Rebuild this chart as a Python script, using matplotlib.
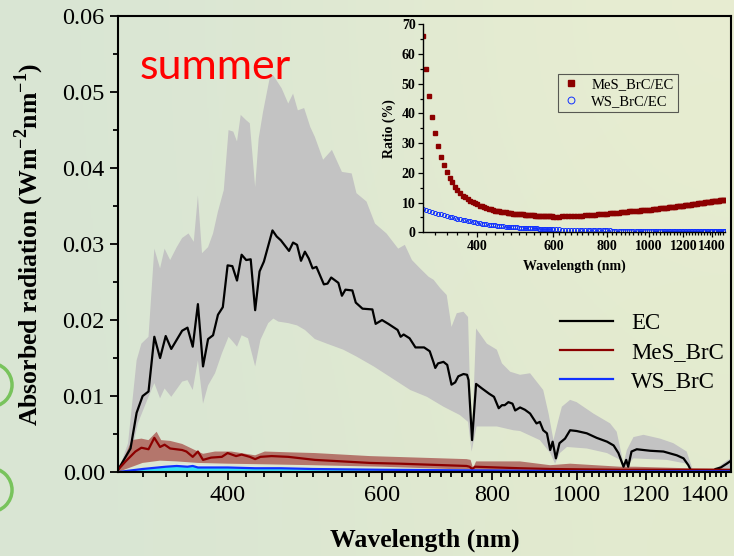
import numpy as np
import matplotlib.pyplot as plt
from matplotlib.patches import Ellipse
from matplotlib.ticker import FixedLocator, NullFormatter, MultipleLocator, FormatStrFormatter

# EC absorbed radiation: mean and band edges (W m-2 nm-1)
ec_wl = [300, 310, 315, 320, 325, 330, 335, 340, 345, 355, 360, 365, 370, 375, 380, 385, 390, 395,
         400, 405, 410, 415, 420, 425, 430, 435, 440, 450, 455, 460, 470, 475, 480, 485, 490, 495,
         500, 505, 515, 520, 525, 535, 540, 545, 555, 560, 570, 585, 590, 600, 610, 625, 630, 635,
         645, 655, 670, 680, 687, 690, 695, 705, 712, 720, 727, 733, 743, 750, 753, 760, 768, 780,
         795, 805, 815, 822, 828, 836, 845, 851, 862, 873, 885, 893, 900, 908, 916, 925, 933, 939,
         947, 956, 970, 983, 1000, 1027, 1054, 1083, 1102, 1116, 1131, 1139, 1145, 1155, 1171,
         1213, 1256, 1301, 1324, 1341, 1350, 1360, 1425, 1440, 1460, 1483, 1500]
ec_mean = [0.0003, 0.0031, 0.0078, 0.0100, 0.0106, 0.0178, 0.0150, 0.0179, 0.0162, 0.0186, 0.0190,
           0.0165, 0.0221, 0.0139, 0.0175, 0.0180, 0.0207, 0.0217, 0.0272, 0.0271, 0.0252, 0.0286,
           0.0279, 0.0280, 0.0213, 0.0264, 0.0277, 0.0318, 0.0310, 0.0305, 0.0291, 0.0302, 0.0299,
           0.0278, 0.0290, 0.0281, 0.0268, 0.0270, 0.0247, 0.0248, 0.0256, 0.0249, 0.0232, 0.0240,
           0.0239, 0.0223, 0.0215, 0.0214, 0.0195, 0.0200, 0.0195, 0.0187, 0.0178, 0.0181, 0.0176,
           0.0164, 0.0164, 0.0159, 0.0144, 0.0137, 0.0143, 0.0145, 0.0141, 0.0115, 0.0118, 0.0126,
           0.0129, 0.0128, 0.0121, 0.0042, 0.0116, 0.0110, 0.0103, 0.0099, 0.0084, 0.0088, 0.0088,
           0.0092, 0.0090, 0.0081, 0.0085, 0.0082, 0.0077, 0.0070, 0.0064, 0.0066, 0.0055, 0.0051,
           0.0029, 0.0040, 0.0018, 0.0038, 0.0044, 0.0055, 0.0054, 0.0051, 0.0045, 0.0040, 0.0035,
           0.0025, 0.0007, 0.0016, 0.0007, 0.0027, 0.0030, 0.0028, 0.0027, 0.0022, 0.0018, 0.0009,
           0.0002, 0.0, 0.0, 0.0004, 0.0006, 0.0011, 0.0015]

ec_up_wl = [300, 308, 315, 319, 325, 330, 335, 339, 344, 350, 355, 361, 366, 370, 374, 380, 385, 390,
            396, 401, 406, 410, 414, 420, 424, 430, 434, 439, 447, 451, 461, 469, 475, 481, 489, 497,
            503, 514, 526, 540, 554, 561, 576, 589, 607, 626, 637, 649, 663, 678, 687, 699, 711, 720,
            730, 743, 752, 759, 768, 790, 811, 822, 840, 862, 885, 916, 929, 941, 953, 962, 983, 1000,
            1045, 1092, 1111, 1131, 1141, 1161, 1192, 1245, 1289, 1335, 1353, 1360, 1425, 1483, 1500]
ec_up = [0.0, 0.0038, 0.0147, 0.0169, 0.0178, 0.0294, 0.0268, 0.0294, 0.0279, 0.0296, 0.0308, 0.0314,
         0.0303, 0.0364, 0.0288, 0.0296, 0.0314, 0.0343, 0.0371, 0.0450, 0.0448, 0.0435, 0.0470, 0.0463,
         0.0459, 0.0375, 0.0439, 0.0474, 0.0520, 0.0522, 0.0505, 0.0485, 0.0498, 0.0476, 0.0479, 0.0454,
         0.0441, 0.0411, 0.0424, 0.0395, 0.0393, 0.0367, 0.0356, 0.0327, 0.0314, 0.0294, 0.0299, 0.0279,
         0.0268, 0.0257, 0.0253, 0.0242, 0.0233, 0.0191, 0.0209, 0.0211, 0.0204, 0.0029, 0.0189, 0.0169,
         0.0161, 0.0143, 0.0132, 0.0128, 0.0130, 0.0108, 0.0077, 0.0042, 0.0068, 0.0086, 0.0095, 0.0092,
         0.0077, 0.0064, 0.0053, 0.0011, 0.0029, 0.0046, 0.0049, 0.0044, 0.0038, 0.0027, 0.0007, 0.0,
         0.0, 0.0015, 0.0018]

ec_lo_wl = [300, 310, 316, 325, 330, 335, 339, 345, 355, 360, 365, 370, 375, 380, 387, 394, 401, 406,
            410, 415, 422, 430, 436, 445, 451, 457, 469, 480, 490, 503, 519, 542, 561, 587, 613, 646,
            675, 705, 736, 752, 759, 769, 811, 847, 862, 908, 933, 945, 957, 975, 1027, 1083, 1121,
            1131, 1161, 1267, 1335, 1353, 1360, 1500]
ec_lo = [0.0, 0.0020, 0.0064, 0.0099, 0.0117, 0.0097, 0.0110, 0.0099, 0.0119, 0.0121, 0.0108, 0.0147,
         0.0090, 0.0114, 0.0130, 0.0156, 0.0178, 0.0171, 0.0165, 0.0180, 0.0176, 0.0139, 0.0174, 0.0196,
         0.0202, 0.0198, 0.0196, 0.0193, 0.0187, 0.0175, 0.0169, 0.0161, 0.0152, 0.0139, 0.0125, 0.0108,
         0.0099, 0.0086, 0.0075, 0.0066, 0.0027, 0.0060, 0.0060, 0.0055, 0.0054, 0.0042, 0.0025, 0.0011,
         0.0025, 0.0033, 0.0031, 0.0025, 0.0016, 0.0004, 0.0018, 0.0016, 0.0011, 0.0004, 0.0, 0.0]

# MeS_BrC
mes_wl = [300, 306, 314, 319, 325, 330, 335, 339, 344, 355, 359, 365, 370, 375, 383, 394, 400, 409,
          415, 424, 430, 436, 449, 469, 503, 581, 629, 749, 755, 760, 766, 862, 933, 1121, 1500]
mes_mean = [0.0003, 0.0014, 0.0027, 0.0032, 0.0030, 0.0045, 0.0033, 0.0036, 0.0031, 0.0029, 0.0027,
            0.0020, 0.0027, 0.0016, 0.0019, 0.0020, 0.0025, 0.0021, 0.0023, 0.0020, 0.0017, 0.0020,
            0.0021, 0.0020, 0.0016, 0.0012, 0.0011, 0.0008, 0.0007, 0.0004, 0.0007, 0.0005, 0.0004,
            0.0003, 0.0003]
mes_up_wl = [300, 311, 319, 325, 332, 336, 344, 355, 367, 375, 387, 404, 430, 441, 469, 503, 581, 749,
             757, 762, 768, 862, 933, 983, 1121, 1167, 1335, 1500]
mes_up = [0.0, 0.0042, 0.0044, 0.0042, 0.0053, 0.0042, 0.0041, 0.0037, 0.0029, 0.0024, 0.0027, 0.0027,
          0.0022, 0.0027, 0.0026, 0.0025, 0.0021, 0.0017, 0.0016, 0.0005, 0.0014, 0.0014, 0.0009, 0.0011,
          0.0007, 0.0007, 0.0005, 0.0004]
mes_lo_wl = [300, 320, 335, 350, 370, 400, 450, 500, 600, 760, 862, 1000, 1500]
mes_lo = [0.0, 0.0012, 0.0015, 0.0014, 0.0012, 0.0011, 0.0010, 0.0009, 0.0007, 0.0003, 0.0002, 0.0001,
          0.0001]

# WS_BrC
ws_wl = [300, 320, 340, 350, 360, 365, 370, 380, 400, 430, 450, 460, 500, 600, 800, 1000, 1500]
ws_mean = [0.0, 0.0004, 0.0007, 0.0008, 0.0007, 0.0008, 0.0006, 0.0006, 0.0006, 0.0005, 0.0005,
           0.0005, 0.0004, 0.0003, 0.0002, 0.0001, 0.0001]
ws_up = [0.0, 0.0006, 0.0010, 0.0011, 0.0011, 0.0011, 0.0010, 0.0010, 0.0009, 0.0008, 0.0007, 0.0007,
         0.0006, 0.0004, 0.0003, 0.0002, 0.0001]
ws_lo = [0.0, 0.0001, 0.0001, 0.0001, 0.0001, 0.0001, 0.0001, 0.0001, 0.0001, 0.0001, 0.0001, 0.0001,
         0.0001, 0.0, 0.0, 0.0, 0.0]

# inset: ratio to EC (%), 5 nm steps below 600 nm, 10 nm steps above
ratio_wl = list(range(300, 600, 5)) + list(range(600, 1501, 10))
mes_ratio = [66.0, 55.0, 46.0, 38.8, 33.4, 29.0, 25.5, 22.7, 20.3, 18.4,
             16.8, 15.4, 14.2, 13.2, 12.3, 11.8, 11.2, 10.6, 10.1, 9.7,
             9.4, 9.0, 8.7, 8.4, 8.2, 7.9, 7.7, 7.5, 7.3, 7.15,
             7.0, 6.9, 6.8, 6.7, 6.6, 6.5, 6.4, 6.3, 6.2, 6.15,
             6.1, 6.05, 6.0, 5.95, 5.9, 5.85, 5.8, 5.75, 5.7, 5.65,
             5.6, 5.55, 5.5, 5.48, 5.45, 5.42, 5.4, 5.37, 5.35, 5.32,
             5.3, 5.3, 5.31, 5.33, 5.36, 5.39, 5.43, 5.47, 5.51, 5.55,
             5.6, 5.66, 5.72, 5.79, 5.86, 5.93, 6.0, 6.08, 6.15, 6.22,
             6.3, 6.37, 6.44, 6.51, 6.58, 6.65, 6.72, 6.79, 6.86, 6.93,
             7.0, 7.06, 7.12, 7.18, 7.24, 7.3, 7.36, 7.42, 7.48, 7.54,
             7.6, 7.67, 7.74, 7.81, 7.88, 7.95, 8.02, 8.09, 8.16, 8.23,
             8.3, 8.37, 8.44, 8.51, 8.58, 8.65, 8.72, 8.79, 8.86, 8.93,
             9.0, 9.07, 9.14, 9.21, 9.28, 9.35, 9.42, 9.49, 9.56, 9.63,
             9.7, 9.77, 9.84, 9.91, 9.98, 10.05, 10.12, 10.19, 10.26, 10.33,
             10.4, 10.46, 10.52, 10.58, 10.64, 10.7, 10.76, 10.82, 10.88, 10.94,
             11.0]
ws_ratio = [7.8, 7.5, 7.2, 6.9, 6.6, 6.3, 6.0, 5.75, 5.5, 5.25,
            5.0, 4.8, 4.6, 4.4, 4.2, 4.0, 3.8, 3.65, 3.5, 3.35,
            3.2, 3.07, 2.95, 2.82, 2.7, 2.6, 2.5, 2.4, 2.3, 2.22,
            2.15, 2.07, 2.0, 1.95, 1.9, 1.85, 1.8, 1.75, 1.7, 1.65,
            1.6, 1.55, 1.5, 1.47, 1.45, 1.42, 1.4, 1.37, 1.35, 1.32,
            1.3, 1.25, 1.2, 1.17, 1.15, 1.12, 1.1, 1.07, 1.05, 1.02,
            1.0, 0.98, 0.95, 0.92, 0.9, 0.88, 0.85, 0.83, 0.8, 0.78,
            0.75, 0.74, 0.72, 0.71, 0.7, 0.69, 0.68, 0.66, 0.65, 0.64,
            0.62, 0.61, 0.6, 0.59, 0.58, 0.57, 0.56, 0.55, 0.54, 0.53,
            0.52, 0.51, 0.5, 0.5, 0.49, 0.49, 0.48, 0.47, 0.46, 0.46,
            0.45, 0.45, 0.44, 0.44, 0.43, 0.43, 0.42, 0.42, 0.41, 0.41,
            0.4, 0.4, 0.39, 0.39, 0.38, 0.38, 0.37, 0.37, 0.36, 0.36,
            0.35, 0.35, 0.35, 0.34, 0.34, 0.34, 0.34, 0.33, 0.33, 0.33,
            0.33, 0.32, 0.32, 0.32, 0.32, 0.31, 0.31, 0.31, 0.31, 0.3,
            0.3, 0.3, 0.3, 0.3, 0.29, 0.29, 0.29, 0.29, 0.28, 0.28,
            0.28]

major_wl = [400, 600, 800, 1000, 1200, 1400]
minor_wl = [w for w in range(320, 1500, 20) if w not in major_wl]
y_ticks = [0.0, 0.01, 0.02, 0.03, 0.04, 0.05, 0.06]

serif = 'Liberation Serif'
plt.rcParams['mathtext.fontset'] = 'custom'
plt.rcParams['mathtext.rm'] = 'Liberation Serif'
plt.rcParams['mathtext.bf'] = 'Liberation Serif:bold'

fig = plt.figure(figsize=(7.34, 5.56), dpi=100)

# slide background
bg = fig.add_axes([0, 0, 1, 1], zorder=-10)
bg.axis('off')
grad = np.array([[[0.85, 0.90, 0.83], [0.91, 0.93, 0.82]],
                 [[0.85, 0.90, 0.83], [0.89, 0.92, 0.81]]])
bg.imshow(grad, extent=[0, 1, 0, 1], interpolation='bicubic', aspect='auto')
for cy in [0.3076, 0.1187]:
    bg.add_patch(Ellipse((-0.0136, cy), 0.06, 0.079, fill=False, ec='#78c35c', lw=2.5))
bg.set_xlim(0, 1)
bg.set_ylim(0, 1)

ax = fig.add_axes([0.1608, 0.151, 0.8352, 0.82])
ax.set_facecolor('none')
ax.fill(ec_up_wl + ec_lo_wl[::-1], ec_up + ec_lo[::-1], color='#c3c3c3', lw=0)
ax.fill(mes_up_wl + mes_lo_wl[::-1], mes_up + mes_lo[::-1], color='#b4766c', lw=0)
ax.fill_between(ws_wl, ws_mean, ws_up, color='#e4eae6', lw=0)
ax.fill_between(ws_wl, ws_lo, ws_mean, color='#35dff0', lw=0)
ax.plot(ec_wl, ec_mean, color='black', lw=1.6, label='EC')
ax.plot(mes_wl, mes_mean, color='#8c0000', lw=1.6, label='MeS_BrC')
ax.plot(ws_wl, ws_mean, color='#1030ff', lw=1.6, label='WS_BrC')

ax.set_xscale('log')
ax.set_xlim(300, 1500)
ax.set_ylim(0, 0.06)
ax.xaxis.set_major_locator(FixedLocator(major_wl))
ax.xaxis.set_minor_locator(FixedLocator(minor_wl))
ax.xaxis.set_minor_formatter(NullFormatter())
ax.xaxis.set_major_formatter(FormatStrFormatter('%d'))
ax.yaxis.set_major_locator(FixedLocator(y_ticks))
ax.yaxis.set_minor_locator(MultipleLocator(0.005))
ax.yaxis.set_major_formatter(FormatStrFormatter('%.2f'))
ax.tick_params(which='both', direction='out', width=1.3, labelsize=17.5, top=False, right=False)
ax.tick_params(which='major', length=6)
ax.tick_params(which='minor', length=3.5)
for lab in ax.get_xticklabels() + ax.get_yticklabels():
    lab.set_fontfamily(serif)
for sp in ax.spines.values():
    sp.set_linewidth(1.5)
ax.set_xlabel('Wavelength (nm)', fontfamily=serif, fontweight='bold', fontsize=18.5, labelpad=16)
ax.set_ylabel('Absorbed radiation (Wm$^{\\mathbf{-2}}$nm$^{\\mathbf{-1}}$)', fontfamily=serif,
              fontweight='bold', fontsize=18.5, labelpad=12)
ax.text(0.035, 0.888, 'summer', transform=ax.transAxes, color='#ff0000', fontsize=31,
        fontfamily='Lato', va='center')
leg = ax.legend(loc='upper left', bbox_to_anchor=(0.706, 0.37), frameon=False, handlelength=2.3,
                labelspacing=0.35, borderaxespad=0, prop={'family': serif, 'size': 16.5})

# inset
ins = fig.add_axes([0.5767, 0.5822, 0.4113, 0.3741])
ins.set_facecolor('none')
ins.plot(ratio_wl, mes_ratio, ls='none', marker='s', ms=2.2, color='#8c0000', mec='#8c0000',
         label='MeS_BrC/EC')
ins.plot(ratio_wl, ws_ratio, ls='none', marker='o', ms=2.9, mfc='none', mec='#1030ff', mew=0.7,
         label='WS_BrC/EC')
ins.set_xscale('log')
ins.set_xlim(300, 1500)
ins.set_ylim(0, 70)
ins.xaxis.set_major_locator(FixedLocator(major_wl))
ins.xaxis.set_minor_locator(FixedLocator(minor_wl))
ins.xaxis.set_minor_formatter(NullFormatter())
ins.xaxis.set_major_formatter(FormatStrFormatter('%d'))
ins.yaxis.set_major_locator(MultipleLocator(10))
ins.yaxis.set_minor_locator(MultipleLocator(5))
ins.tick_params(which='both', direction='out', width=0.9, labelsize=10, top=False, right=False, pad=2)
ins.tick_params(which='major', length=3.5)
ins.tick_params(which='minor', length=2)
for lab in ins.get_xticklabels() + ins.get_yticklabels():
    lab.set_fontfamily(serif)
    lab.set_fontweight('bold')
ins.spines['top'].set_visible(False)
ins.spines['right'].set_visible(False)
for sp in ['left', 'bottom']:
    ins.spines[sp].set_linewidth(1.0)
ins.set_xlabel('Wavelength (nm)', fontfamily=serif, fontweight='bold', fontsize=10, labelpad=5)
ins.set_ylabel('Ratio (%)', fontfamily=serif, fontweight='bold', fontsize=10, labelpad=4)
ileg = ins.legend(loc='upper left', bbox_to_anchor=(0.446, 0.761), frameon=True, fancybox=False,
                  handlelength=1.2, markerscale=1.7, borderaxespad=0, borderpad=0.3,
                  labelspacing=0.2, prop={'family': serif, 'size': 10.5})
ileg.get_frame().set_edgecolor('#333333')
ileg.get_frame().set_linewidth(0.8)
ileg.get_frame().set_facecolor('none')

fig.savefig('out.png', dpi=100)
